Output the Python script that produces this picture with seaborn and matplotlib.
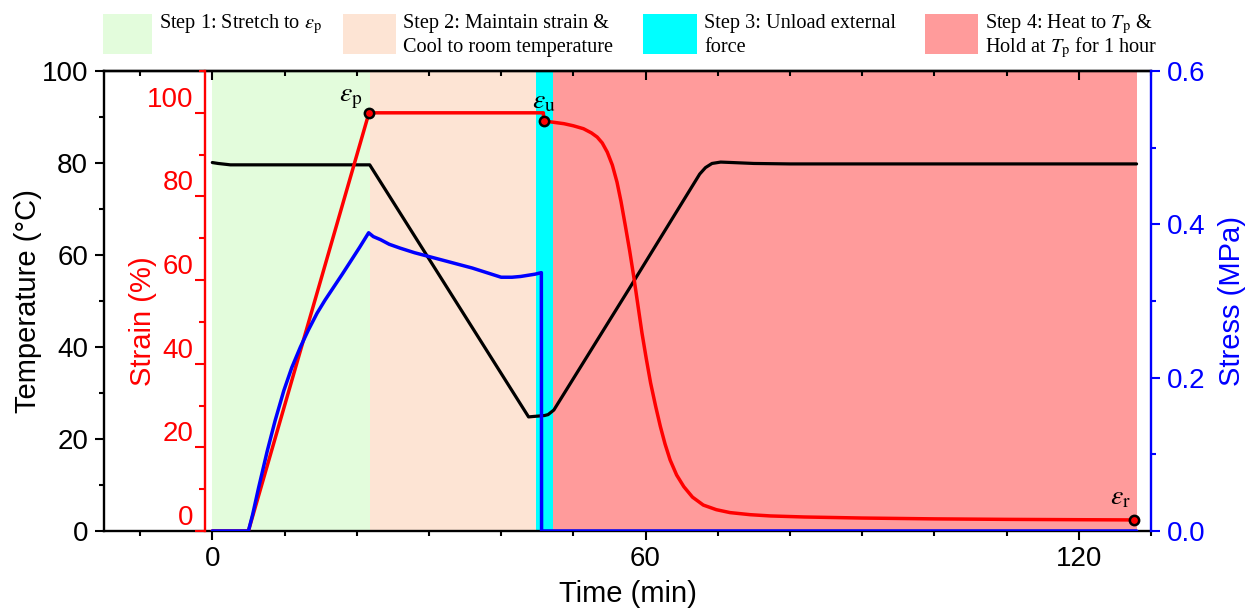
import matplotlib
matplotlib.use("Agg")
import matplotlib.pyplot as plt
import seaborn as sns
from matplotlib.patches import Rectangle
from matplotlib.ticker import MultipleLocator, FormatStrFormatter

# ---- measured series ----
temp_time = [0, 0.8, 2.5, 10, 21.8, 43.8, 44.5, 46.0, 46.5, 47.3, 57.9, 67.5,
             68.3, 69.2, 70.4, 72, 75, 80, 100, 128]
temp_vals = [80.1, 79.9, 79.6, 79.6, 79.6, 24.8, 24.9, 25.1, 25.3, 26.3, 53.1, 77.6,
             79.0, 79.9, 80.2, 80.1, 79.9, 79.8, 79.8, 79.8]

strain_time = [0, 5.0, 21.7, 45.85, 45.9, 47.0, 48.7, 50.0, 51.4, 52.5, 53.3, 54.0,
               54.7, 55.4, 56.05, 56.6, 57.2, 57.8, 58.35, 58.9, 59.5, 60.1, 60.7,
               61.4, 62.05, 62.7, 63.4, 64.3, 65.3, 66.5, 68.0, 69.8, 71.7, 74.5,
               77.3, 82, 90, 100, 110, 120, 127.6]
strain_vals = [0, 0, 100, 100, 98.0, 97.8, 97.4, 96.9, 96.2, 95.2, 94.2, 92.8,
               90.6, 87.5, 83.4, 78.8, 73.0, 67.0, 61.0, 54.5, 47.4, 41.2, 35.4,
               29.8, 25.0, 20.8, 17.0, 13.4, 10.6, 8.1, 6.2, 5.1, 4.4, 3.9,
               3.6, 3.35, 3.1, 2.9, 2.78, 2.7, 2.65]

stress_time = [0, 5.0, 5.6, 6.4, 7.6, 8.7, 9.9, 11.0, 12.2, 13.3, 14.5, 15.6, 16.8,
               18.0, 19.1, 20.4, 21.65, 22.3, 23.3, 24.5, 26.0, 28, 30, 32, 34,
               36, 38, 40, 41.5, 42.7, 44.7, 45.57, 45.6, 128]
stress_vals = [0, 0, 0.022, 0.056, 0.104, 0.144, 0.183, 0.213, 0.240, 0.262, 0.284,
               0.301, 0.318, 0.335, 0.351, 0.370, 0.389, 0.384, 0.380, 0.374, 0.369,
               0.363, 0.358, 0.353, 0.348, 0.343, 0.337, 0.331, 0.331, 0.332, 0.335,
               0.337, 0.0, 0.0]

# key strain states
point_names = [r"$\varepsilon_\mathrm{p}$", r"$\varepsilon_\mathrm{u}$", r"$\varepsilon_\mathrm{r}$"]
point_time = [21.7, 45.9, 127.6]
point_strain = [100, 98.0, 2.65]

# experimental steps (two text lines each)
step_line1 = [
    "Step 1: Stretch to $\\varepsilon_\\mathrm{p}$",
    "Step 2: Maintain strain &",
    "Step 3: Unload external",
    "Step 4: Heat to $T_\\mathrm{p}$ &",
]
step_line2 = [
    "",
    "Cool to room temperature",
    "force",
    "Hold at $T_\\mathrm{p}$ for 1 hour",
]
step_start = [0, 21.8, 44.85, 47.25]
step_end = [21.8, 44.85, 47.25, 128.0]
step_colors = ["#e3fcdc", "#fde4d4", "#00ffff", "#ff9b9b"]

# ---- style ----
sns.set_style("ticks")
plt.rcParams["font.family"] = ["Liberation Sans", "DejaVu Sans"]
plt.rcParams["mathtext.fontset"] = "stix"
plt.rcParams["text.color"] = "black"
plt.rcParams["axes.labelcolor"] = "black"
plt.rcParams["xtick.color"] = "black"
plt.rcParams["ytick.color"] = "black"

TICK_FS = 20
LABEL_FS = 21
SPINE_W = 1.7
W, H = 1256, 611

fig = plt.figure(figsize=(W / 100, H / 100), dpi=100)
ax = fig.add_axes([104 / W, 1 - 531 / H, 1047 / W, 460 / H])
ax2 = ax.twinx()
ax3 = ax.twinx()

for a, b, c in zip(step_start, step_end, step_colors):
    ax.axvspan(a, b, color=c, lw=0, zorder=0)

sns.lineplot(x=temp_time, y=temp_vals, ax=ax, color="black", linewidth=2.3,
             sort=False, estimator=None, legend=False)
sns.lineplot(x=strain_time, y=strain_vals, ax=ax2, color="#ff0000", linewidth=2.5,
             sort=False, estimator=None, legend=False)
sns.scatterplot(x=point_time, y=point_strain, ax=ax2, color="#ff0000", edgecolor="black",
                linewidth=1.8, s=45, zorder=5, legend=False, clip_on=False)
sns.lineplot(x=stress_time, y=stress_vals, ax=ax3, color="#0000ff", linewidth=2.5,
             sort=False, estimator=None, legend=False)

# strain state labels
offsets = [(-5, 1), (0, 5), (-2, 7)]
aligns = ["right", "center", "right"]
for name, t, s, off, ha in zip(point_names, point_time, point_strain, offsets, aligns):
    ax2.annotate(name, xy=(t, s), xytext=off, textcoords="offset points",
                 ha=ha, va="bottom", fontsize=20, color="black")

# ---- limits ----
ax.set_xlim(-15, 130)
ax.set_ylim(0, 100)
ax2.set_ylim(0, 110)
ax3.set_ylim(0, 0.6)

# ---- main (temperature / time) axes ----
ax.xaxis.set_major_locator(MultipleLocator(60))
ax.xaxis.set_minor_locator(MultipleLocator(10))
ax.yaxis.set_major_locator(MultipleLocator(20))
ax.yaxis.set_minor_locator(MultipleLocator(10))
ax.tick_params(axis="both", which="major", direction="out", length=6.5, width=1.5,
               labelsize=TICK_FS, color="black", labelcolor="black", pad=5)
ax.tick_params(axis="both", which="minor", direction="out", length=3.3, width=1.5,
               color="black")
ax.tick_params(axis="x", which="major", pad=4)
ax.spines["right"].set_visible(False)
for side in ("left", "top", "bottom"):
    ax.spines[side].set_linewidth(SPINE_W)
    ax.spines[side].set_color("black")

sec = ax.secondary_xaxis("top")
sec.xaxis.set_major_locator(MultipleLocator(60))
sec.xaxis.set_minor_locator(MultipleLocator(10))
sec.tick_params(which="major", direction="in", length=6.5, width=1.5, labeltop=False,
                color="black")
sec.tick_params(which="minor", direction="in", length=3.3, width=1.5, labeltop=False,
                color="black")
sec.spines["top"].set_linewidth(SPINE_W)
sec.spines["top"].set_color("black")

ax.set_xlabel("Time (min)", fontsize=LABEL_FS, color="black")
ax.xaxis.set_label_coords(0.5, -0.137)
ax.xaxis.label.set_va("center")
ax.set_ylabel("Temperature (°C)", fontsize=LABEL_FS, color="black")
ax.yaxis.set_label_coords(-0.073, 0.5)
ax.yaxis.label.set_va("center")

# ---- strain axis (red, inner left) ----
for side in ("right", "top", "bottom"):
    ax2.spines[side].set_visible(False)
ax2.spines["left"].set_visible(True)
ax2.spines["left"].set_position(("data", -1))
ax2.spines["left"].set_color("#ff0000")
ax2.spines["left"].set_linewidth(SPINE_W)
ax2.yaxis.tick_left()
ax2.yaxis.set_label_position("left")
ax2.set_yticks(list(range(0, 101, 20)))
ax2.yaxis.set_minor_locator(MultipleLocator(10))
ax2.tick_params(axis="y", which="major", direction="out", length=7, width=1.5,
                colors="#ff0000", labelsize=TICK_FS, pad=1.5)
ax2.tick_params(axis="y", which="minor", direction="out", length=4, width=1.5,
                colors="#ff0000")
for lbl in ax2.get_yticklabels():
    lbl.set_va("bottom")
ax2.set_ylabel("Strain (%)", fontsize=LABEL_FS, color="#ff0000")
ax2.yaxis.set_label_coords(0.0372, 0.4565)
ax2.yaxis.label.set_va("center")

# ---- stress axis (blue, right) ----
for side in ("left", "top", "bottom"):
    ax3.spines[side].set_visible(False)
ax3.spines["right"].set_color("#0000ff")
ax3.spines["right"].set_linewidth(SPINE_W)
ax3.yaxis.set_major_locator(MultipleLocator(0.2))
ax3.yaxis.set_minor_locator(MultipleLocator(0.1))
ax3.yaxis.set_major_formatter(FormatStrFormatter("%.1f"))
ax3.tick_params(axis="y", which="major", direction="out", length=6.5, width=1.5,
                colors="#0000ff", labelsize=TICK_FS, pad=5)
ax3.tick_params(axis="y", which="minor", direction="out", length=3.3, width=1.5,
                colors="#0000ff")
ax3.set_ylabel("Stress (MPa)", fontsize=LABEL_FS, color="#0000ff", rotation=90)
ax3.yaxis.set_label_coords(1.0774, 0.5)
ax3.yaxis.label.set_va("center")

# ---- step key across the top ----
key_left_px = [103, 343, 643, 925]
key_width_px = [49, 53, 54, 53]
for l1, l2, color, left, wpx in zip(step_line1, step_line2, step_colors,
                                    key_left_px, key_width_px):
    fig.add_artist(Rectangle((left / W, 1 - 54 / H), wpx / W, 40 / H,
                             transform=fig.transFigure, facecolor=color,
                             edgecolor="none"))
    tx = (left + wpx + 7) / W
    fig.text(tx, 1 - 28 / H, l1, family="Liberation Serif", fontsize=14.6,
             ha="left", va="baseline")
    if l2:
        fig.text(tx, 1 - 52 / H, l2, family="Liberation Serif", fontsize=14.6,
                 ha="left", va="baseline")

fig.savefig("out.png", dpi=100)
